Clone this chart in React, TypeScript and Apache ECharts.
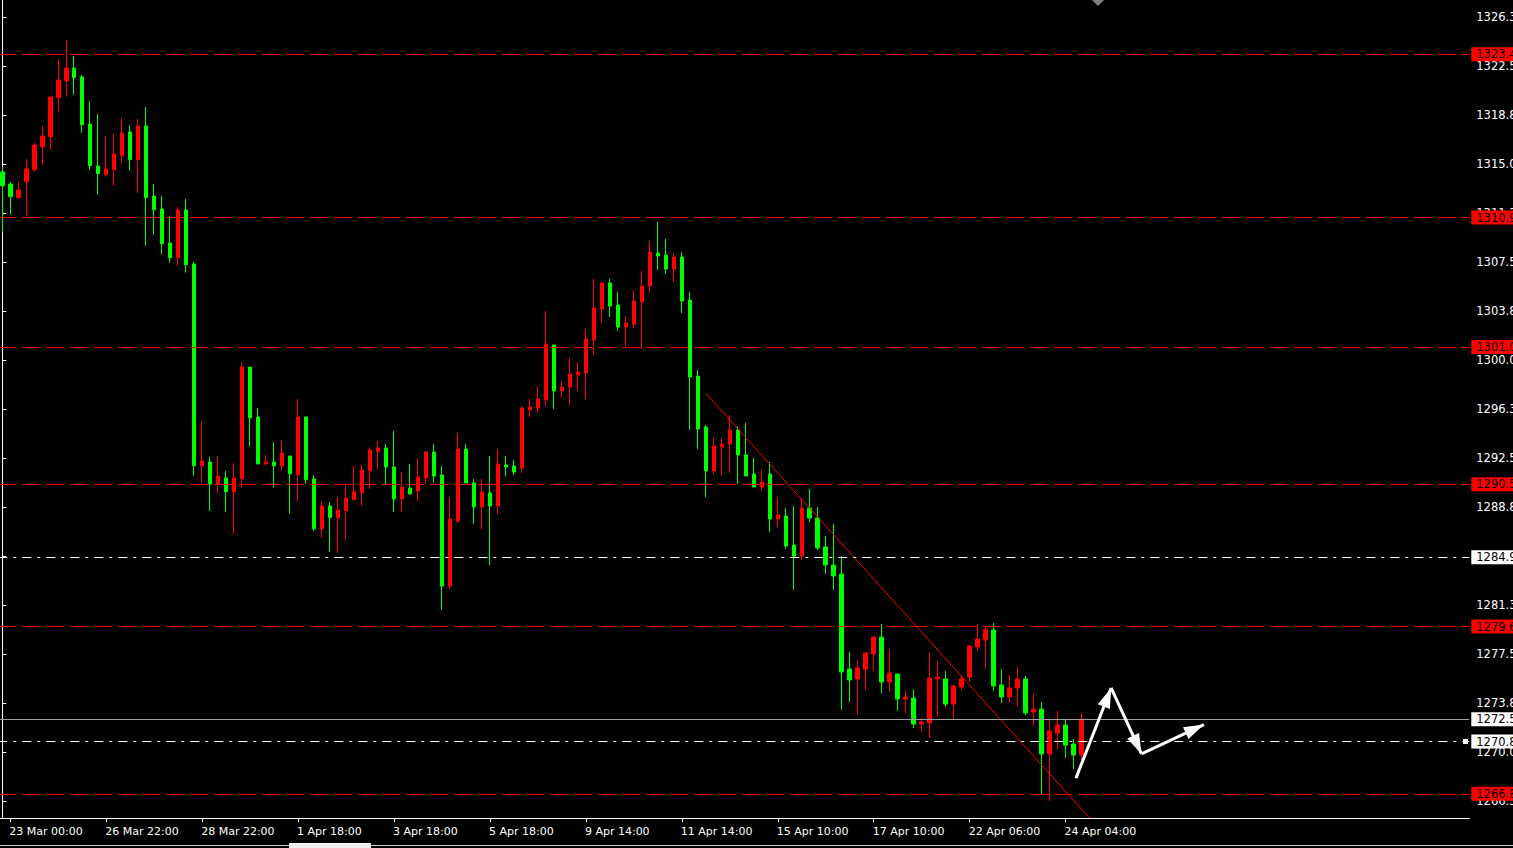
import React, { useEffect, useRef } from 'react';
import * as echarts from 'echarts';

// ---- time axis labels (every 12 H4 bars, starting at bar 1) ----
const timeLabels = ['23 Mar 00:00', '26 Mar 22:00', '28 Mar 22:00', '1 Apr 18:00', '3 Apr 18:00', '5 Apr 18:00', '9 Apr 14:00', '11 Apr 14:00', '15 Apr 10:00', '17 Apr 10:00', '22 Apr 06:00', '24 Apr 04:00'];
const firstLabelBar = 1;
const labelEvery = 12;
const totalSlots = 184;

// ---- price tick labels ----
const priceTicks = [1266.25, 1270.0, 1273.75, 1277.5, 1281.25, 1285.0, 1288.75, 1292.5, 1296.25, 1300.0, 1303.75, 1307.5, 1311.25, 1315.0, 1318.75, 1322.5, 1326.25];
const priceMin = 1264.95;
const priceMax = 1327.55;

// ---- OHLC ----
const opens = [1314.39,1313.47,1312.42,1313.64,1314.56,1316.32,1317.09,1320.07,1321.37,1322.35,
1321.66,1318.06,1314.85,1314.18,1314.56,1315.63,1317.45,1315.33,1317.91,1312.55,
1311.56,1308.95,1307.83,1311.48,1307.35,1291.91,1292.19,1290.51,1290.97,1289.92,
1290.92,1299.46,1295.64,1292.06,1292.19,1291.91,1292.65,1291.22,1295.64,1290.89,
1287.09,1288.83,1287.93,1288.47,1289.31,1289.84,1291.53,1292.98,1293.27,1291.81,
1289.36,1290.20,1289.97,1290.97,1292.96,1291.20,1282.70,1287.68,1293.19,1290.59,
1288.75,1289.82,1288.83,1291.96,1291.89,1291.73,1296.17,1296.33,1296.94,1301.15,
1297.63,1297.93,1298.85,1299.00,1301.53,1303.90,1305.89,1304.21,1302.52,1302.75,
1304.44,1305.66,1308.19,1308.03,1306.96,1307.88,1304.59,1298.77,1294.87,1291.50,
1293.34,1293.57,1294.64,1292.73,1291.27,1290.28,1291.27,1287.83,1288.06,1285.84,
1285.00,1288.67,1287.91,1285.69,1284.31,1283.62,1276.35,1275.59,1276.35,1277.50,
1278.80,1275.36,1275.97,1274.06,1274.13,1272.14,1272.22,1275.59,1275.59,1273.67,
1274.97,1275.74,1278.03,1278.57,1279.34,1275.13,1274.21,1274.90,1275.59,1273.06,
1273.29,1269.85,1271.45,1272.07,1270.61,1269.77];
const highs = [1314.77,1313.62,1313.62,1315.38,1316.61,1317.91,1320.13,1323.04,1324.49,1323.27,
1321.81,1319.82,1318.83,1317.14,1317.30,1318.52,1317.98,1318.44,1319.36,1313.47,
1312.55,1311.02,1311.71,1312.32,1307.50,1295.33,1292.58,1292.65,1291.50,1292.12,
1299.77,1299.46,1296.33,1292.73,1293.72,1293.88,1292.65,1297.01,1295.64,1291.20,
1289.21,1289.13,1289.51,1290.51,1291.89,1291.96,1293.34,1293.80,1293.57,1294.57,
1291.43,1292.04,1292.50,1293.04,1293.57,1291.89,1289.51,1294.41,1293.57,1290.89,
1290.89,1292.65,1293.19,1292.65,1292.35,1296.48,1297.01,1298.01,1303.75,1301.15,
1298.39,1300.15,1299.84,1302.37,1306.20,1305.97,1306.20,1305.20,1303.37,1305.36,
1306.81,1309.11,1310.56,1309.26,1308.19,1308.26,1305.20,1299.24,1295.03,1294.03,
1294.03,1295.79,1294.95,1295.18,1292.50,1291.58,1292.19,1289.51,1288.67,1288.83,
1289.44,1290.13,1288.75,1286.53,1287.45,1285.00,1277.65,1277.04,1277.65,1278.80,
1279.80,1277.88,1275.97,1274.67,1274.82,1272.60,1277.65,1276.96,1276.20,1275.13,
1275.89,1278.19,1279.80,1279.57,1279.87,1276.35,1275.89,1276.51,1275.82,1274.44,
1273.83,1272.45,1273.14,1272.52,1270.99,1272.98];
const lows = [1309.82,1311.12,1312.42,1310.97,1314.41,1314.94,1316.09,1319.00,1320.15,1320.30,
1317.39,1314.56,1312.65,1314.03,1313.34,1315.02,1314.49,1312.80,1308.75,1309.59,
1308.06,1307.45,1307.22,1306.68,1291.14,1290.61,1288.44,1289.77,1288.39,1286.70,
1290.23,1293.37,1291.99,1291.91,1290.23,1291.53,1288.24,1289.16,1290.53,1286.93,
1286.40,1285.33,1285.25,1286.25,1289.23,1288.85,1290.15,1291.66,1290.51,1288.37,
1288.37,1289.74,1289.21,1290.51,1290.59,1280.87,1282.47,1287.52,1290.59,1287.45,
1287.07,1284.31,1288.21,1291.12,1291.20,1291.35,1295.64,1295.94,1296.48,1296.25,
1297.09,1296.55,1297.63,1297.01,1300.38,1302.83,1303.29,1302.22,1301.07,1302.45,
1300.84,1305.13,1306.89,1306.58,1305.97,1303.60,1294.64,1293.19,1289.51,1291.27,
1291.12,1291.35,1290.51,1291.12,1290.28,1289.97,1286.84,1287.22,1285.54,1282.40,
1284.69,1287.60,1285.46,1283.62,1282.40,1273.21,1273.83,1272.83,1274.74,1276.20,
1274.51,1274.59,1273.14,1272.99,1271.84,1271.53,1271.07,1272.68,1273.44,1272.45,
1274.74,1275.36,1277.73,1276.35,1274.67,1273.75,1273.75,1273.52,1272.83,1271.99,
1266.79,1266.25,1270.23,1269.54,1268.70,1269.39];
const closes = [1313.34,1312.50,1313.01,1314.62,1316.45,1317.14,1320.13,1321.43,1322.35,1321.60,
1318.01,1314.87,1314.26,1314.62,1315.76,1317.37,1315.33,1317.91,1312.42,1311.50,
1308.90,1307.83,1311.48,1307.29,1291.91,1292.27,1290.51,1291.12,1289.92,1290.97,
1299.46,1295.58,1292.06,1292.19,1291.91,1292.88,1291.30,1295.64,1290.84,1287.09,
1288.83,1287.93,1288.52,1289.44,1289.90,1291.58,1293.11,1293.27,1291.81,1289.36,
1290.28,1289.74,1291.04,1292.96,1291.12,1282.70,1287.83,1293.19,1290.59,1288.75,
1289.90,1288.83,1292.04,1291.81,1291.43,1296.33,1296.40,1297.01,1301.22,1297.63,
1297.93,1298.93,1299.08,1301.61,1303.98,1305.89,1304.13,1302.52,1302.83,1304.51,
1305.66,1308.26,1307.96,1306.96,1307.88,1304.51,1298.70,1294.72,1291.50,1293.42,
1293.57,1294.64,1292.73,1291.12,1290.28,1290.66,1287.83,1288.14,1285.77,1285.00,
1288.67,1287.91,1285.61,1284.31,1283.47,1276.12,1275.51,1276.43,1277.58,1278.80,
1275.36,1276.05,1274.06,1274.21,1272.14,1272.29,1275.66,1275.74,1273.67,1275.05,
1275.59,1278.11,1278.65,1279.34,1275.05,1274.21,1274.90,1275.59,1272.99,1273.29,
1269.85,1271.61,1272.07,1270.53,1269.77,1272.52];

// ---- horizontal levels ----
const redLevels = [1323.4, 1310.9, 1301.0, 1290.5, 1279.6, 1266.8];
const dashDotLevels = [1284.9, 1270.8];
const bidLevel = 1272.5;

// ---- drawn objects (bar index, price) ----
const trendLine = [[88.0, 1297.45], [136.0, 1264.95]];
const arrowPath = [[134.3, 1268.0], [138.7, 1274.9], [142.5, 1269.85], [150.3, 1272.1]];

const FONT = '"DejaVu Sans", Tahoma, sans-serif';

export default function App() {
  const ref = useRef<HTMLDivElement>(null);
  useEffect(() => {
    const el = ref.current!;
    const chart = echarts.init(el, null, { renderer: 'svg' });
    const candles = opens.map((o, i) => [o, closes[i], lows[i], highs[i]]);
    const categories = Array.from({ length: totalSlots }, (_, i) => {
      const k = (i - firstLabelBar) / labelEvery;
      return Number.isInteger(k) && k >= 0 && k < timeLabels.length ? timeLabels[k] : '';
    });
    const showIdx = (idx: number) => categories[idx] !== '';
    const markedValues = [...redLevels, ...dashDotLevels, bidLevel];
    const isRed = (v: number) => redLevels.some((r) => Math.abs(r - v) < 1e-6);

    const hLines: any[] = [
      ...redLevels.map((v) => ({ yAxis: v, lineStyle: { color: '#ff0000', width: 1, type: [18, 6] } })),
      ...dashDotLevels.map((v) => ({ yAxis: v, lineStyle: { color: '#ffffff', width: 1, type: [9, 6, 3, 6] } })),
      { yAxis: bidLevel, lineStyle: { color: '#a0a0a0', width: 1, type: 'solid' } },
    ];

    const headLen = 20;
    const arrowSegs: any[] = [];
    for (let k = 0; k < arrowPath.length - 1; k++) {
      arrowSegs.push([{ coord: arrowPath[k] }, { coord: arrowPath[k + 1], symbolOffset: [0, headLen / 2] }]);
    }

    const grid = { left: -1.7, top: 0, width: 1471, height: 818, containLabel: false, outerBoundsMode: 'none' };

    chart.setOption({
      animation: false,
      backgroundColor: '#000000',
      grid,
      xAxis: [
        {
          type: 'category',
          data: categories,
          boundaryGap: true,
          axisLine: { show: true, lineStyle: { color: '#ffffff', width: 1 } },
          axisTick: { show: true, alignWithLabel: true, length: 4, interval: (i: number) => showIdx(i), lineStyle: { color: '#ffffff' } },
          axisLabel: { show: true, interval: (i: number) => showIdx(i), color: '#ffffff', fontFamily: FONT, fontSize: 11, align: 'left', margin: 8, padding: [0, 0, 0, -1] },
          splitLine: { show: false },
        },
        { type: 'value', min: -0.5, max: totalSlots - 0.5, show: false, gridIndex: 0 },
      ],
      yAxis: [
        {
          type: 'value',
          position: 'right',
          min: priceMin,
          max: priceMax,
          scale: true,
          axisLine: { show: true, lineStyle: { color: '#ffffff', width: 1 } },
          axisTick: { show: true, length: 4, customValues: priceTicks, lineStyle: { color: '#ffffff' } },
          axisLabel: { show: true, customValues: priceTicks, color: '#ffffff', fontFamily: FONT, fontSize: 11.5, margin: 7, formatter: (v: number) => v.toFixed(1) },
          splitLine: { show: false },
        },
        {
          type: 'value',
          position: 'right',
          min: priceMin,
          max: priceMax,
          scale: true,
          z: 10,
          axisLine: { show: false },
          axisTick: { show: false },
          splitLine: { show: false },
          axisLabel: {
            show: true,
            customValues: markedValues,
            margin: 2,
            formatter: (v: number) => `{${isRed(v) ? 'r' : 'w'}|${v.toFixed(1)}}`,
            rich: {
              r: { backgroundColor: '#ff0000', color: '#000000', fontFamily: FONT, fontSize: 11.5, lineHeight: 12, padding: [1, 14, 1, 5] },
              w: { backgroundColor: '#ffffff', color: '#000000', fontFamily: FONT, fontSize: 11.5, lineHeight: 12, padding: [1, 14, 1, 5] },
            },
          },
        },
      ],
      series: [
        {
          type: 'candlestick',
          xAxisIndex: 0,
          yAxisIndex: 0,
          data: candles,
          barWidth: 4,
          itemStyle: { color: '#ff0000', color0: '#00ff00', borderColor: '#ff0000', borderColor0: '#00ff00', borderWidth: 1 },
          markLine: { silent: true, symbol: ['none', 'none'], label: { show: false }, data: hLines },
        },
        {
          type: 'line',
          xAxisIndex: 1,
          yAxisIndex: 0,
          data: trendLine,
          symbol: 'none',
          lineStyle: { color: '#ff0000', width: 1 },
          z: 3,
          markLine: {
            silent: true,
            symbol: ['none', 'triangle'],
            symbolSize: [13, headLen],
            label: { show: false },
            lineStyle: { color: '#ffffff', width: 3, type: 'solid' },
            itemStyle: { color: '#ffffff' },
            data: arrowSegs,
          },
        },
      ],
      graphic: [
        { type: 'polygon', shape: { points: [[1092, 0], [1104, 0], [1098, 6]] }, style: { fill: '#808080' } },
        { type: 'rect', shape: { x: 1463, y: 739, width: 5, height: 5 }, style: { fill: '#ffffff' } },
        { type: 'line', shape: { x1: 0, y1: 845.5, x2: 289, y2: 845.5 }, style: { stroke: '#d0d0d0', lineWidth: 1 } },
        { type: 'line', shape: { x1: 371, y1: 845.5, x2: 1513, y2: 845.5 }, style: { stroke: '#d0d0d0', lineWidth: 1 } },
        { type: 'rect', shape: { x: 289, y: 843, width: 82, height: 6 }, style: { fill: '#f0f0f0' } },
      ],
    });
    return () => chart.dispose();
  }, []);
  return <div ref={ref} style={{ position: 'fixed', left: 0, top: 0, width: 1513, height: 848, background: '#000' }} />;
}
